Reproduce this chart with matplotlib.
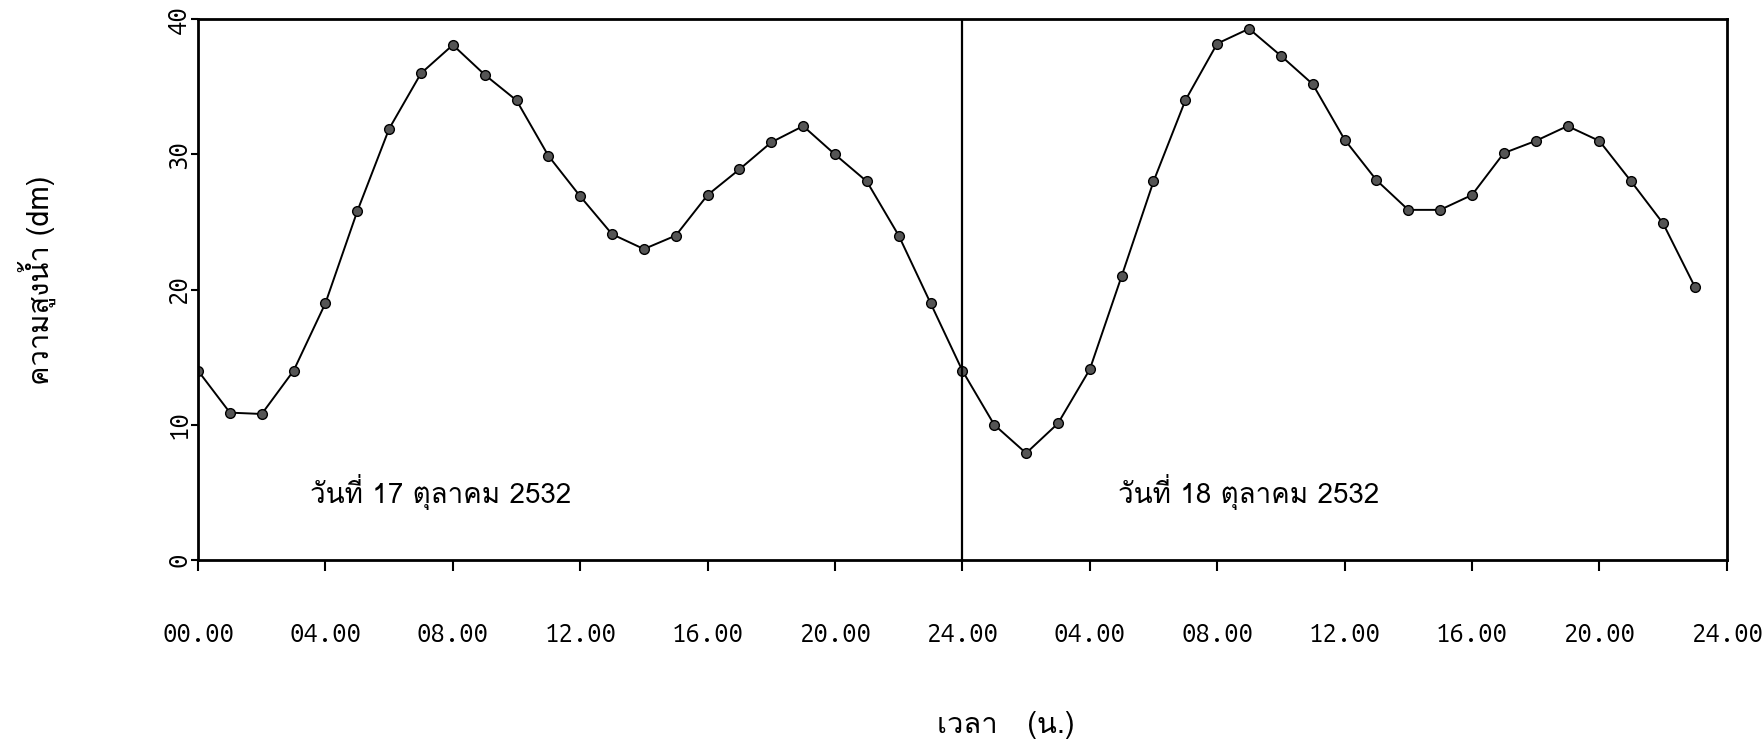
import matplotlib
matplotlib.use("Agg")
import matplotlib.pyplot as plt
from matplotlib import font_manager
from matplotlib.ft2font import FT2Font

# hourly water level (dm), 17 and 18 Oct 2532
day1_level = [14.0, 10.9, 10.8, 14.0, 19.0, 25.8, 31.9, 36.0, 38.1, 35.9, 34.0, 29.9,
              26.9, 24.1, 23.0, 24.0, 27.0, 28.9, 30.9, 32.1, 30.0, 28.0, 24.0, 19.0]
day2_level = [14.0, 10.0, 7.9, 10.1, 14.1, 21.0, 28.0, 34.0, 38.2, 39.3, 37.3, 35.2,
              31.1, 28.1, 25.9, 25.9, 27.0, 30.1, 31.0, 32.1, 31.0, 28.0, 24.9, 20.2]
hours = list(range(48))
xtick_pos = list(range(0, 49, 4))
xtick_labels = ["00.00", "04.00", "08.00", "12.00", "16.00", "20.00", "24.00",
                "04.00", "08.00", "12.00", "16.00", "20.00", "24.00"]
ytick_pos = [0, 10, 20, 30, 40]
day_labels = ["วันที่ 17 ตุลาคม 2532", "วันที่ 18 ตุลาคม 2532"]

all_names = set(f.name for f in font_manager.fontManager.ttflist)

# fonts that carry Thai glyphs
thai_fonts = set()
for f in font_manager.fontManager.ttflist:
    try:
        if ord("ก") in FT2Font(f.fname).get_charmap():
            thai_fonts.add(f.name)
    except Exception:
        pass


def pick(prefs, pool, default):
    for p in prefs:
        if p in pool:
            return p
    return default


thai_font = pick(["Loma", "Noto Sans Thai Looped", "Noto Sans Thai"], thai_fonts, "DejaVu Sans")
thai_family = [thai_font, "DejaVu Sans"]
mono = pick(["Ubuntu Mono", "Courier Prime", "Liberation Mono"], all_names, "DejaVu Sans Mono")

fig = plt.figure(figsize=(17.62, 7.41), dpi=100)
ax = fig.add_axes([0.1124, 0.2443, 0.980 - 0.1124, 0.974 - 0.2443])

level = day1_level + day2_level
ax.plot(hours, level, color="black", lw=1.4, marker="o", markersize=7,
        markerfacecolor="#555555", markeredgecolor="black", markeredgewidth=1.0)

# day boundary
ax.axvline(24, color="black", lw=1.6)

ax.set_xlim(0, 48)
ax.set_ylim(0, 40)
for s in ax.spines.values():
    s.set_linewidth(2.0)

ax.set_xticks(xtick_pos)
ax.set_xticklabels(xtick_labels, fontfamily=mono, fontsize=18.5)
ax.set_yticks(ytick_pos)
ax.set_yticklabels([str(v) for v in ytick_pos], fontfamily=mono, fontsize=18.5,
                   rotation=90, va="center")
ax.tick_params(axis="x", direction="out", length=8, width=1.5, pad=37)
ax.tick_params(axis="y", direction="out", length=5, width=1.5, pad=0)

ax.text(3.5, 5.0, day_labels[0], fontsize=20, family=thai_family, va="center")
ax.text(28.9, 5.0, day_labels[1], fontsize=20, family=thai_family, va="center")

fig.text(0.021, 0.622, "ความสูงน้ำ (dm)", rotation=90, fontsize=21,
         family=thai_family, ha="center", va="center")
fig.text(0.571, 0.022, "เวลา   (น.)", fontsize=21, family=thai_family,
         ha="center", va="center")

fig.savefig("out.png", dpi=100)
